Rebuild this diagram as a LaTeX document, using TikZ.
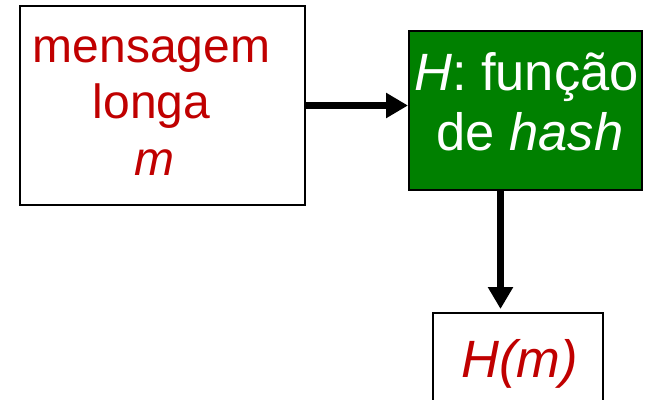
\documentclass[tikz,border=0pt]{standalone}
\usepackage{fontspec}
\setmainfont{Liberation Sans}
\usetikzlibrary{arrows.meta}
\definecolor{msgred}{HTML}{C00000}
\definecolor{hashgreen}{HTML}{008000}
\tikzset{
  box/.style={draw=black, line width=2pt, rectangle, inner sep=0pt},
  bigtext/.style={font=\fontsize{48}{57}\selectfont, inner sep=0pt, anchor=base},
  largetext/.style={font=\fontsize{52.5}{60}\selectfont, inner sep=0pt, anchor=base},
  flow/.style={line width=7.5pt, -{Triangle[length=22pt,width=24pt]}}
}
\begin{document}
\begin{tikzpicture}[x=1pt,y=-1pt]
  \useasboundingbox (0,0) rectangle (645,399);
  % message box
  \node[box, fill=white, minimum width=285pt, minimum height=199pt] (msg) at (162.5,105.5) {};
  \node[bigtext, text=msgred] (t1) at (151.5,62) {mensagem};
  \node[bigtext, text=msgred] (t2) at (151.5,118) {longa};
  \node[bigtext, text=msgred] (t3) at (154,175) {\itshape m};
  % hash function box
  \node[box, fill=hashgreen, minimum width=233pt, minimum height=159pt] (hash) at (525.5,110.5) {};
  \node[largetext, text=white] (t4) at (526.5,90) {\itshape H\upshape: função};
  \node[largetext, text=white] (t5) at (530,150) {de \itshape hash};
  % digest box
  \node[box, fill=white, minimum width=170pt, minimum height=110pt, anchor=north] (out) at (518,312) {};
  \node[largetext, text=msgred] (t6) at (519.5,377) {\itshape H(m)};
  % connectors
  \draw[flow] (msg.east) -- (msg.east -| hash.west);
  \coordinate (drop) at (500.5,190);
  \draw[flow, shorten >=3pt] (drop) -- (drop |- out.north);
\end{tikzpicture}
\end{document}
